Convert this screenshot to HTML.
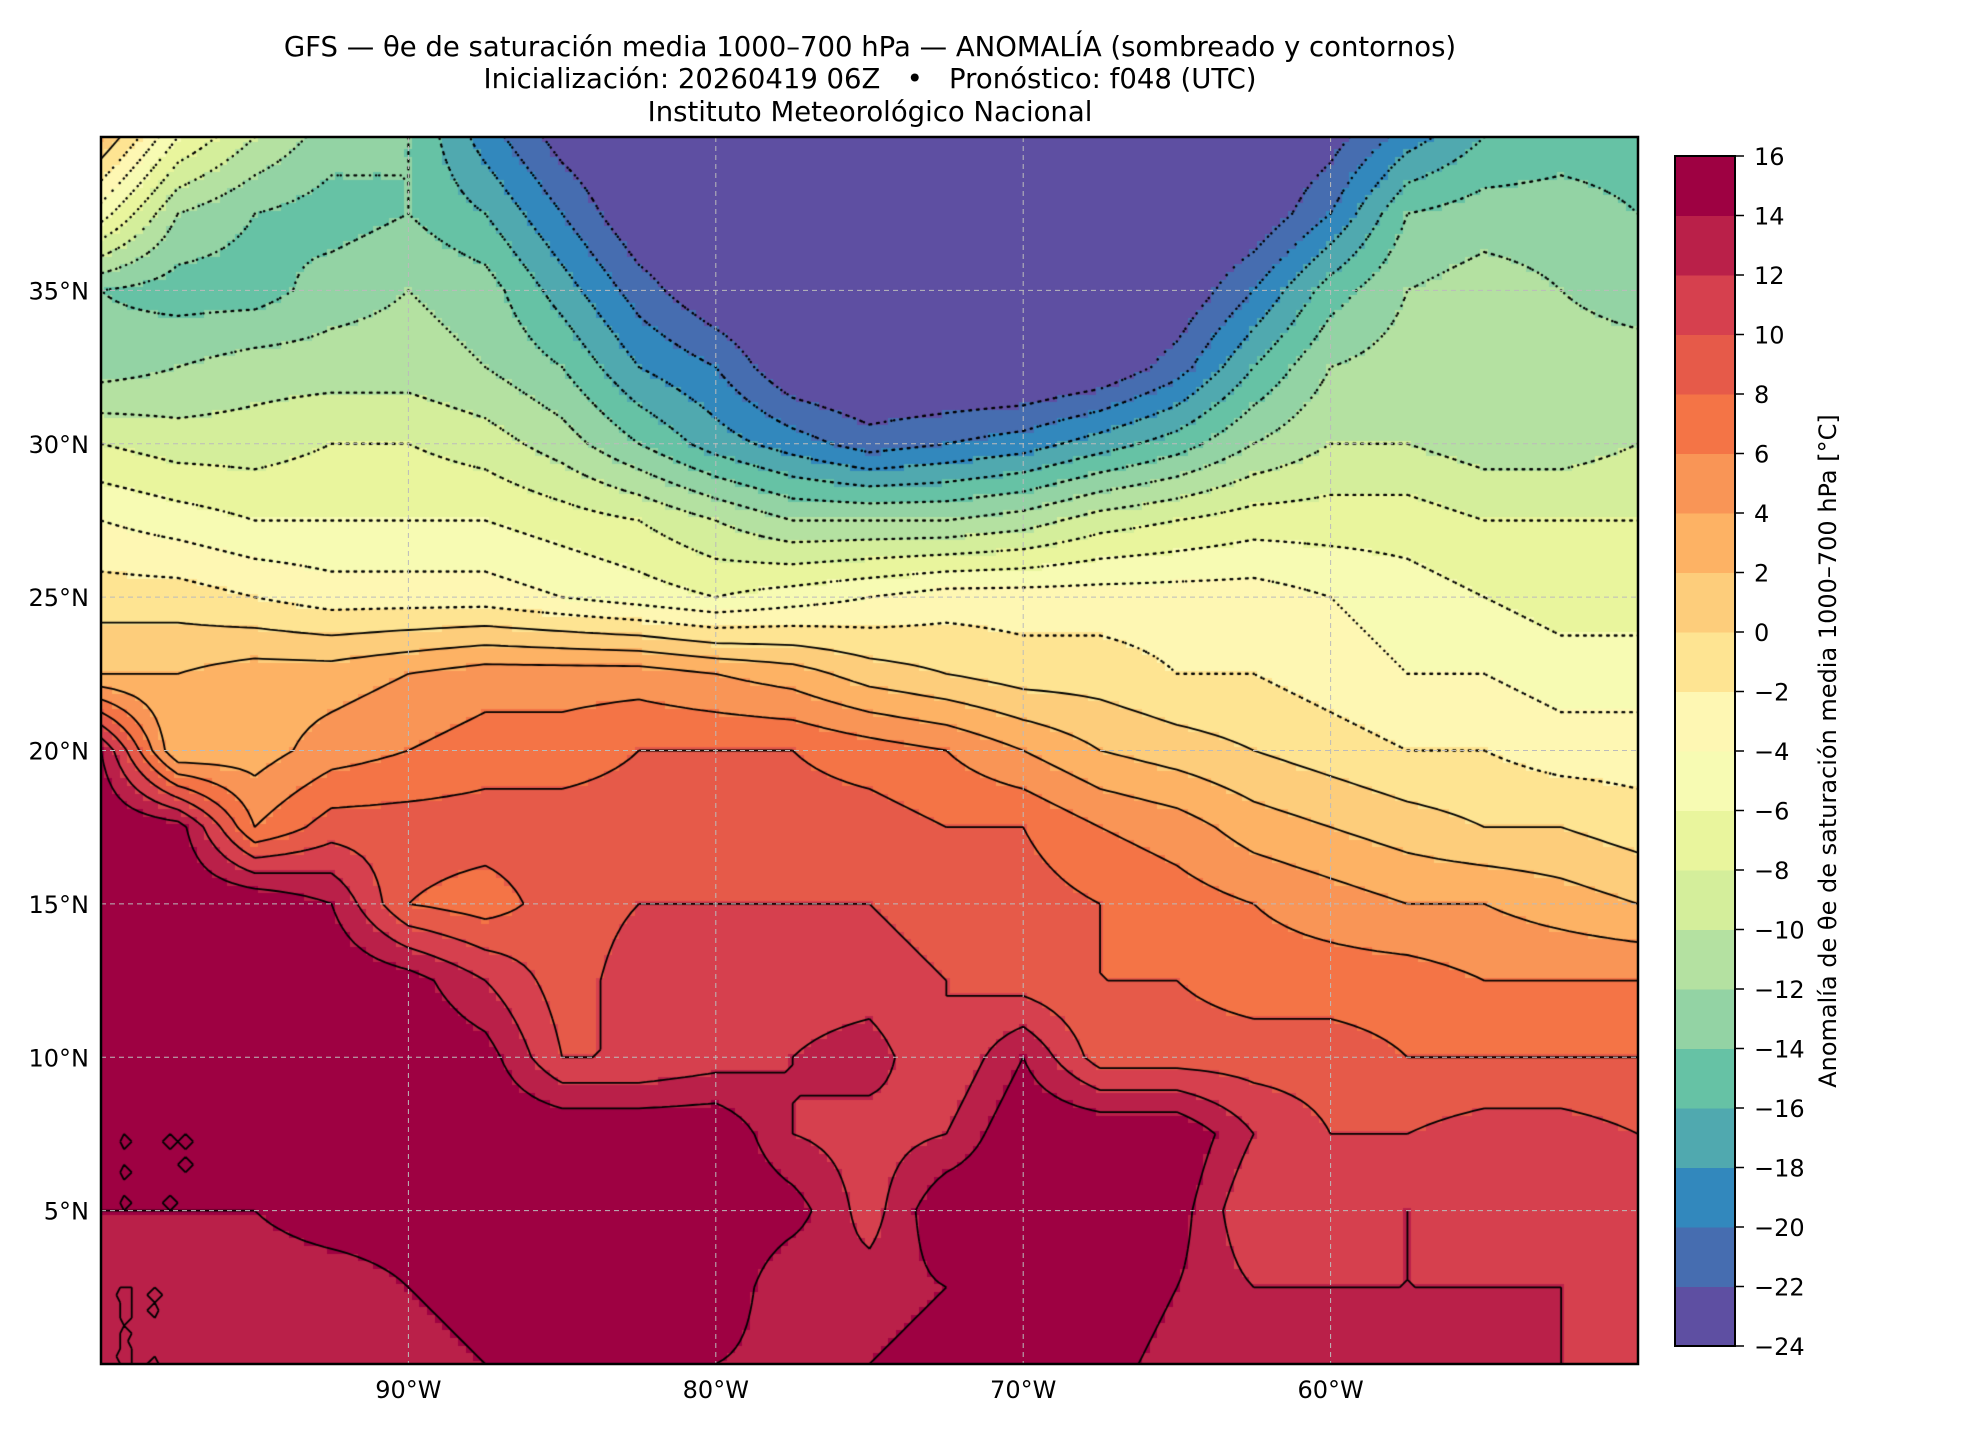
<!DOCTYPE html>
<html><head><meta charset="utf-8">
<style>
body{margin:0;background:#fff;}
#wrap{position:relative;width:1980px;height:1440px;overflow:hidden;background:#fff;font-family:"DejaVu Sans","Liberation Sans",sans-serif;}
canvas{position:absolute;}
svg{position:absolute;left:0;top:0;}
</style></head>
<body>
<div id="wrap">
<canvas id="field" width="1537" height="1227" style="left:101px;top:137px;"></canvas>
<svg id="ov" width="1980" height="1440">
 <g font-size="27.5" text-anchor="middle" fill="#000" style="white-space:pre">
  <text x="870" y="56">GFS — θe de saturación media 1000–700 hPa — ANOMALÍA (sombreado y contornos)</text>
  <text x="870" y="88" xml:space="preserve">Inicialización: 20260419 06Z   •   Pronóstico: f048 (UTC)</text>
  <text x="870" y="121">Instituto Meteorológico Nacional</text>
 </g>
 <g id="grid"></g>
 <rect x="101" y="137" width="1537" height="1227" fill="none" stroke="#000" stroke-width="2.5"/>
 <g id="xt" font-size="24" text-anchor="middle"></g>
 <g id="yt" font-size="24" text-anchor="end"></g>
 <g id="cb"></g>
 <text transform="translate(1836,751) rotate(-90)" font-size="24" text-anchor="middle">Anomalía de θe de saturación media 1000–700 hPa [°C]</text>
</svg>
</div>
<script>
// ---- data ----
const lons = [-100,-97.5,-95,-92.5,-90,-87.5,-85,-82.5,-80,-77.5,-75,-72.5,-70,-67.5,-65,-62.5,-60,-57.5,-55,-52.5,-50];
const lats = [40,37.5,35,32.5,30,27.5,25,22.5,20,17.5,15,12.5,10,7.5,5,2.5,0];
const r40  = [2,-6,-10,-13,-14,-19,-23,-25,-25,-25,-25,-25,-25,-25,-25,-25,-23,-19,-16,-15,-15];
const r375 = [-5,-12,-14,-15,-14,-16,-20,-24,-25,-25,-25,-25,-25,-25,-25,-24,-20,-14,-13,-13,-14];
const r35  = [-14,-15,-15,-13,-12,-13,-17,-21,-24,-25,-25,-25,-25,-25,-24,-20,-15,-12,-11,-12,-13];
const r325 = [-13,-12,-11,-11,-11,-12,-14,-18,-20,-24,-25,-25,-25,-24,-21,-16,-12,-11,-11,-11,-11];
const r30  = [-8,-9,-9,-8,-8,-9,-11,-14,-17,-19,-21,-20,-19,-17,-15,-12,-10,-10,-11,-11,-10];
const r275 = [-4,-5,-6,-6,-6,-6,-7,-8,-10,-12,-12,-12,-11,-9,-8,-7,-7,-7,-8,-8,-8];
const r25  = [-1,-1,-2,-3,-3,-3,-4,-5,-6,-5,-4,-3,-3,-3,-3,-3,-4,-5,-6,-7,-7];
const r225 = [2,2,3,3,4,5,5,5,4,3,1,0,-1,-1,-2,-2,-3,-4,-4,-5,-5];
const r20  = [14,2,3,5,6,7,7,8,8,8,7,6,4,2,1,0,-1,-2,-2,-3,-3];
const r175 = [16,15,6,9,9,9,9,9,9,9,9,8,8,6,5,3,2,1,0,0,-1];
const r15  = [16,16,16,14,8,7,9,10,10,10,10,9,9,8,7,6,5,4,4,3,2];
const r125 = [16,16,16,16,15,12,9,11,11,11,11,10,9,8,8,7,7,7,6,6,6];
const r10  = [15,15,16,16,16,15,10,10,11,12,13,10,14,9,9,9,9,8,8,8,8];
const r75  = [14,14,14,15,16,16,16,16,16,12,11,12,16,16,16,12,10,10,11,11,10];
const r5   = [14,14,14,15,15,16,16,16,16,15,11,16,16,16,15,10,11,12,11,11,12];
const r25s = [12,12,13,13,14,15,15,16,16,12,13,14,16,16,14,12,12,12,12,12,11];
const r0   = [12,12,12,13,13,14,14,14,14,13,14,15,15,15,13,12,12,13,12,12,11];
const rows = [r40,r375,r35,r325,r30,r275,r25,r225,r20,r175,r15,r125,r10,r75,r5,r25s,r0];
const levels = [-24,-22,-20,-18,-16,-14,-12,-10,-8,-6,-4,-2,0,2,4,6,8,10,12,14,16];
const colors = ["#5e4fa2","#466db0","#3288bd","#50a9af","#66c2a5","#93d3a4","#b4e1a1","#d4ee9b","#e9f59d","#f7fbb3","#fef7b3","#fee492","#fdcd7b","#fdb264","#f99556","#f47446","#e65a49","#d6404e","#ba2049","#9e0142"];
const xTicks = [-90,-80,-70,-60];
const xTickLabels = ["90°W","80°W","70°W","60°W"];
const yTicks = [5,10,15,20,25,30,35];
const yTickLabels = ["5°N","10°N","15°N","20°N","25°N","30°N","35°N"];

// ---- axes ----
const PX0=101, PX1=1638, PY0=137, PY1=1364;
const LON0=-100, LON1=-50, LAT0=0, LAT1=40;
function xS(lon){return PX0+(lon-LON0)/(LON1-LON0)*(PX1-PX0);}
function yS(lat){return PY1-(lat-LAT0)/(LAT1-LAT0)*(PY1-PY0);}
const CB0=156, CB1=1346, CBX=1675, CBW=60;
function cbY(v){return CB1-(v-levels[0])/(levels[levels.length-1]-levels[0])*(CB1-CB0);}

function val(lon,lat){
  let fi=(lon-lons[0])/(lons[1]-lons[0]);
  let fj=(lats[0]-lat)/(lats[0]-lats[1]);
  fi=Math.max(0,Math.min(lons.length-1.0001,fi));
  fj=Math.max(0,Math.min(lats.length-1.0001,fj));
  const i=Math.floor(fi), j=Math.floor(fj), a=fi-i, b=fj-j;
  return rows[j][i]*(1-a)*(1-b)+rows[j][i+1]*a*(1-b)+rows[j+1][i]*(1-a)*b+rows[j+1][i+1]*a*b;
}
function colorOf(v){
  let k=Math.floor((v-levels[0])/2);
  k=Math.max(0,Math.min(colors.length-1,k));
  return colors[k];
}

// ---- shading ----
const cv=document.getElementById('field');
const ctx=cv.getContext('2d');
const RES=0.25;
const nx=Math.round((LON1-LON0)/RES)+1, ny=Math.round((LAT1-LAT0)/RES)+1;
const F=[];
for(let j=0;j<ny;j++){F.push([]);for(let i=0;i<nx;i++){F[j].push(val(LON0+i*RES,LAT0+j*RES));}}
for(let j=0;j<ny;j++){for(let i=0;i<nx;i++){
  const lon=LON0+i*RES, lat=LAT0+j*RES;
  const x0=xS(lon-RES/2)-PX0, x1=xS(lon+RES/2)-PX0;
  const y0=yS(lat+RES/2)-PY0, y1=yS(lat-RES/2)-PY0;
  ctx.fillStyle=colorOf(F[j][i]);
  ctx.fillRect(Math.floor(x0),Math.floor(y0),Math.ceil(x1-x0)+1,Math.ceil(y1-y0)+1);
}}

// ---- contours (marching squares) ----
function interp(p1,p2,v1,v2,L){const t=(L-v1)/(v2-v1);return [p1[0]+(p2[0]-p1[0])*t,p1[1]+(p2[1]-p1[1])*t];}
ctx.strokeStyle='#000';
for(const L of levels){
  if(L<=levels[0]||L>=levels[levels.length-1]) continue;
  ctx.setLineDash(L<0?[0.1,6]:[]);
  ctx.lineWidth=L<0?2.4:1.8;
  ctx.lineCap=L<0?'round':'butt';
  ctx.beginPath();
  for(let j=0;j<ny-1;j++){for(let i=0;i<nx-1;i++){
    const v=[F[j][i],F[j][i+1],F[j+1][i+1],F[j+1][i]];
    const p=[[xS(LON0+i*RES)-PX0,yS(LAT0+j*RES)-PY0],[xS(LON0+(i+1)*RES)-PX0,yS(LAT0+j*RES)-PY0],
             [xS(LON0+(i+1)*RES)-PX0,yS(LAT0+(j+1)*RES)-PY0],[xS(LON0+i*RES)-PX0,yS(LAT0+(j+1)*RES)-PY0]];
    const pts=[];
    for(let e=0;e<4;e++){const a=v[e],b=v[(e+1)%4];
      if((a<L)!==(b<L)) pts.push(interp(p[e],p[(e+1)%4],a,b,L));}
    if(pts.length>=2){ctx.moveTo(pts[0][0],pts[0][1]);ctx.lineTo(pts[1][0],pts[1][1]);}
    if(pts.length===4){ctx.moveTo(pts[2][0],pts[2][1]);ctx.lineTo(pts[3][0],pts[3][1]);}
  }}
  ctx.stroke();
}
ctx.setLineDash([]);

// ---- overlay ----
const NS='http://www.w3.org/2000/svg';
function mk(tag,attrs,parent){const e=document.createElementNS(NS,tag);for(const k in attrs)e.setAttribute(k,attrs[k]);parent.appendChild(e);return e;}
const grid=document.getElementById('grid');
xTicks.forEach(function(t){
  const l=mk('line',{x1:xS(t),x2:xS(t),y1:PY0,y2:PY1,stroke:'#bbb','stroke-width':1,'stroke-dasharray':'5,4'},grid);
  
  
});
yTicks.forEach(function(t){
  const l=mk('line',{x1:PX0,x2:PX1,y1:yS(t),y2:yS(t),stroke:'#bbb','stroke-width':1,'stroke-dasharray':'5,4'},grid);
  
  
});
const xt=document.getElementById('xt');
xTicks.forEach(function(t,k){
  const e=mk('text',{x:xS(t),y:1398},xt);e.textContent=xTickLabels[k];
  
  
});
const yt=document.getElementById('yt');
yTicks.forEach(function(t,k){
  const e=mk('text',{x:89,y:yS(t)+9},yt);e.textContent=yTickLabels[k];
  
  
});
const cb=document.getElementById('cb');
colors.forEach(function(c,k){
  const r=mk('rect',{x:CBX,y:cbY(levels[k+1]),width:CBW,height:cbY(levels[k])-cbY(levels[k+1])+0.5,fill:c},cb);
  
  
});
mk('rect',{x:CBX,y:CB0,width:CBW,height:CB1-CB0,fill:'none',stroke:'#000','stroke-width':2},cb);
levels.forEach(function(v){
  const y=cbY(v);
  mk('line',{x1:CBX+CBW,x2:CBX+CBW+9,y1:y,y2:y,stroke:'#000','stroke-width':1.5},cb);
  const e=mk('text',{x:1754,y:y+9,'font-size':24},cb);
  e.textContent=(v<0?'−'+Math.abs(v):String(v));
  
  
});
</script>
</body></html>
